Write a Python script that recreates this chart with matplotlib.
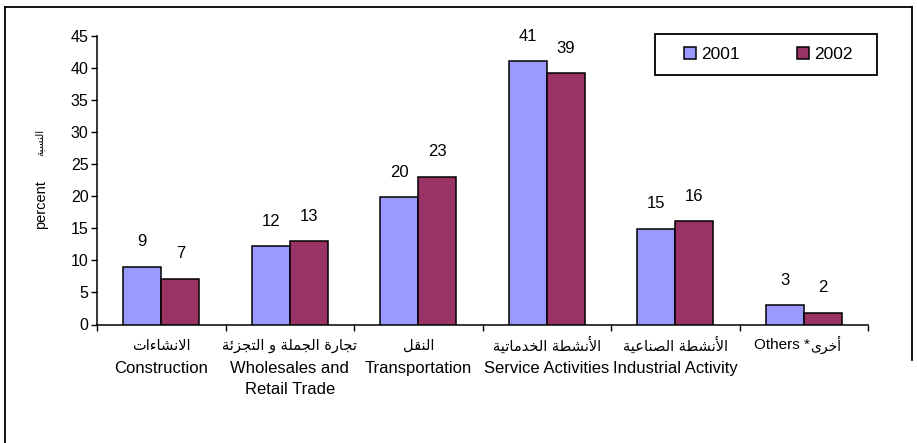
import matplotlib
matplotlib.use("Agg")
import matplotlib.pyplot as plt
from matplotlib.lines import Line2D
from matplotlib.patches import Rectangle
import numpy as np

# ---------------- data ----------------
cat_ar = ["الانشاءات", "تجارة الجملة و التجزئة", "النقل",
          "الأنشطة الخدماتية", "الأنشطة الصناعية", "أخرى*"]
cat_en = ["Construction", "Wholesales and\nRetail Trade", "Transportation",
          "Service Activities", "Industrial Activity", "Others"]
years = ["2001", "2002"]
v2001 = [9.0, 12.2, 19.8, 41.0, 14.9, 3.0]
v2002 = [7.1, 13.0, 23.0, 39.1, 16.1, 1.8]
yticks = [0, 5, 10, 15, 20, 25, 30, 35, 40, 45]
ylabel_en = "percent"
ylabel_ar = "النسبة"

# ---------------- minimal Arabic shaping ----------------
FORMS = {  # isolated, final, initial, medial
    'ا': (0xFE8D, 0xFE8E, None, None), 'أ': (0xFE83, 0xFE84, None, None),
    'ب': (0xFE8F, 0xFE90, 0xFE91, 0xFE92), 'ت': (0xFE95, 0xFE96, 0xFE97, 0xFE98),
    'ة': (0xFE93, 0xFE94, None, None), 'ج': (0xFE9D, 0xFE9E, 0xFE9F, 0xFEA0),
    'خ': (0xFEA5, 0xFEA6, 0xFEA7, 0xFEA8), 'د': (0xFEA9, 0xFEAA, None, None),
    'ر': (0xFEAD, 0xFEAE, None, None), 'ز': (0xFEAF, 0xFEB0, None, None),
    'س': (0xFEB1, 0xFEB2, 0xFEB3, 0xFEB4), 'ش': (0xFEB5, 0xFEB6, 0xFEB7, 0xFEB8),
    'ص': (0xFEB9, 0xFEBA, 0xFEBB, 0xFEBC), 'ط': (0xFEC1, 0xFEC2, 0xFEC3, 0xFEC4),
    'ع': (0xFEC9, 0xFECA, 0xFECB, 0xFECC), 'ق': (0xFED5, 0xFED6, 0xFED7, 0xFED8),
    'ل': (0xFEDD, 0xFEDE, 0xFEDF, 0xFEE0), 'م': (0xFEE1, 0xFEE2, 0xFEE3, 0xFEE4),
    'ن': (0xFEE5, 0xFEE6, 0xFEE7, 0xFEE8), 'ه': (0xFEE9, 0xFEEA, 0xFEEB, 0xFEEC),
    'و': (0xFEED, 0xFEEE, None, None), 'ى': (0xFEEF, 0xFEF0, None, None),
    'ي': (0xFEF1, 0xFEF2, 0xFEF3, 0xFEF4), 'ئ': (0xFE89, 0xFE8A, 0xFE8B, 0xFE8C),
    'ء': (0xFE80, None, None, None),
}
LAMALEF = {'ا': (0xFEFB, 0xFEFC), 'أ': (0xFEF7, 0xFEF8)}


def joins_next(ch):
    f = FORMS.get(ch)
    return f is not None and f[2] is not None


def joins_prev(ch):
    f = FORMS.get(ch)
    return f is not None and f[1] is not None


def shape(text):
    out = []
    i = 0
    prev_connects = False
    n = len(text)
    while i < n:
        ch = text[i]
        if ch not in FORMS:
            out.append(ch)
            prev_connects = False
            i += 1
            continue
        if ch == 'ل' and i + 1 < n and text[i + 1] in LAMALEF:
            iso, fin = LAMALEF[text[i + 1]]
            out.append(chr(fin if prev_connects else iso))
            prev_connects = False
            i += 2
            continue
        nxt = text[i + 1] if i + 1 < n else ''
        cp = prev_connects and joins_prev(ch)
        cn = joins_next(ch) and joins_prev(nxt)
        iso, fin, ini, med = FORMS[ch]
        if cp and cn:
            code = med
        elif cp:
            code = fin
        elif cn:
            code = ini
        else:
            code = iso
        out.append(chr(code))
        prev_connects = cn
        i += 1
    return ''.join(out)[::-1]


# ---------------- figure ----------------
W, H = 917, 443
fig = plt.figure(figsize=(W / 100, H / 100), dpi=100)
fig.patch.set_facecolor("white")
FAM = ["Liberation Sans", "DejaVu Sans"]
ARFAM = ["DejaVu Sans"]

ax = fig.add_axes([97 / W, 1 - 324.5 / H, (868 - 97) / W, (324.5 - 35.5) / H])
x = np.arange(len(cat_en))
bw = 0.296
c1, c2 = "#9999FF", "#993366"
b1 = ax.bar(x - bw / 2, v2001, bw, color=c1, edgecolor="black", linewidth=1.1, label=years[0], zorder=3)
b2 = ax.bar(x + bw / 2, v2002, bw, color=c2, edgecolor="black", linewidth=1.1, label=years[1], zorder=3)

for xs, vs in ((x - bw / 2, v2001), (x + bw / 2, v2002)):
    for xi, vi in zip(xs, vs):
        ax.annotate(f"{round(vi):d}", (xi, vi), xytext=(0, 18), textcoords="offset points",
                    ha="center", va="center", fontsize=12, family=FAM)

ax.set_xlim(-0.5, len(cat_en) - 0.5)
ax.set_ylim(0, 45)
ax.set_yticks(yticks)
ax.set_yticklabels([str(t) for t in yticks], family=FAM, fontsize=11.5)
ax.tick_params(axis="y", direction="out", length=4, width=1, pad=2)
ax.set_xticks(np.arange(-0.5, len(cat_en)), minor=False)
ax.set_xticklabels([])
ax.tick_params(axis="x", direction="out", length=4, width=1)
for s in ("top", "right"):
    ax.spines[s].set_visible(False)
for s in ("left", "bottom"):
    ax.spines[s].set_linewidth(1.1)

# category labels
trans = ax.get_xaxis_transform()
for i, (ar, en) in enumerate(zip(cat_ar, cat_en)):
    if en == "Others":
        ax.annotate("Others *", (i, 0), xycoords=trans, xytext=(4.5, -15), textcoords="offset points",
                    ha="right", va="center", fontsize=11, family=FAM)
        ax.annotate(shape(ar.rstrip("*")), (i, 0), xycoords=trans, xytext=(4.5, -15),
                    textcoords="offset points", ha="left", va="center", fontsize=10, family=ARFAM)
        continue
    ax.annotate(shape(ar), (i, 0), xycoords=trans, xytext=(0, -15), textcoords="offset points",
                ha="center", va="center", fontsize=10.5, family=ARFAM)
    ax.annotate(en, (i, 0), xycoords=trans, xytext=(0, -26.5), textcoords="offset points",
                ha="center", va="top", fontsize=12, family=FAM, linespacing=1.45)

# y labels
fig.text(41 / W, 1 - 205 / H, ylabel_en, rotation=90, ha="center", va="center", fontsize=10.5, family=FAM)
fig.text(39 / W, 1 - 142 / H, shape(ylabel_ar), rotation=90, ha="center", va="center", fontsize=7.5, family=ARFAM)

# legend (frame drawn separately)
fig.add_artist(Rectangle((655 / W, 1 - 75 / H), 222 / W, 41 / H, transform=fig.transFigure,
                         facecolor="white", edgecolor="black", lw=1.3, zorder=4))
leg = fig.legend(handles=[b1, b2], labels=years, ncol=2, loc="center",
                 bbox_to_anchor=(768.5 / W, 1 - 54.5 / H), frameon=False,
                 prop={"family": FAM, "size": 12.5},
                 handlelength=0.7, handleheight=0.7, handletextpad=0.3,
                 columnspacing=3.3, borderpad=0.3)
leg.set_zorder(5)

# outer border
fig.add_artist(Line2D([5 / W, 5 / W], [0, 1 - 7 / H], transform=fig.transFigure, color="black", lw=1.3))
fig.add_artist(Line2D([5 / W, 912 / W], [1 - 7 / H, 1 - 7 / H], transform=fig.transFigure, color="black", lw=1.3))
fig.add_artist(Line2D([912 / W, 912 / W], [1 - 360 / H, 1 - 7 / H], transform=fig.transFigure, color="black", lw=1.3))

fig.savefig("out.png", dpi=100)
